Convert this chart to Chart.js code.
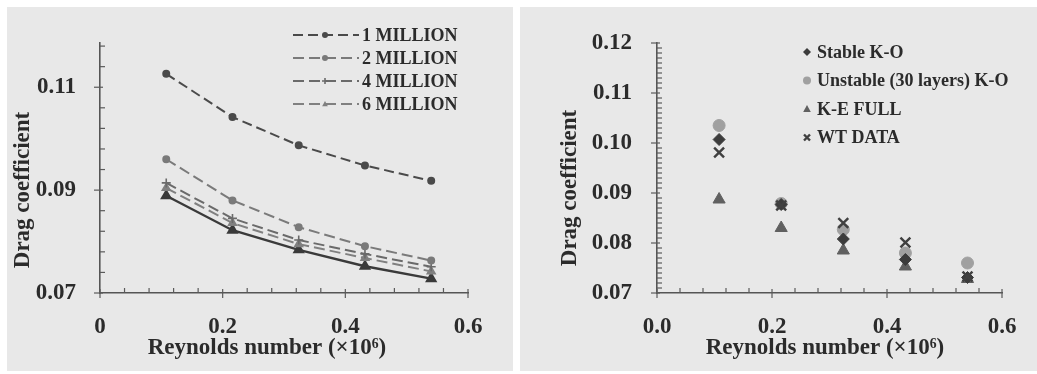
<!DOCTYPE html>
<html><head><meta charset="utf-8">
<script src="https://cdn.jsdelivr.net/npm/chart.js@4"></script>
<style>
html,body{margin:0;padding:0;background:#fff;width:1037px;height:374px;overflow:hidden;}
.panel{position:absolute;background:#e8e8e8;}
#p1{left:7px;top:7px;width:506px;height:364px;}
#p2{left:520px;top:7px;width:517px;height:364px;}
canvas{display:block;}
</style></head><body>
<div class="panel" id="p1"><canvas id="c1" width="506" height="364"></canvas></div>
<div class="panel" id="p2"><canvas id="c2" width="517" height="364"></canvas></div>
<script>
// ---------- data ----------
const reynolds = [0.108, 0.216, 0.324, 0.432, 0.54];

const leftLabels = ['1 MILLION', '2 MILLION', '4 MILLION', '6 MILLION'];
const cd1Million = [0.1126, 0.1042, 0.0987, 0.0948, 0.0918];
const cd2Million = [0.0960, 0.0880, 0.0828, 0.0791, 0.0763];
const cd4Million = [0.0914, 0.0845, 0.0803, 0.0776, 0.0751];
const cd6Million = [0.0904, 0.0836, 0.0795, 0.0768, 0.0742];
const cdSolid    = [0.0889, 0.0822, 0.0784, 0.0752, 0.0728];

const rightLabels = ['Stable K-O', 'Unstable (30 layers) K-O', 'K-E FULL', 'WT DATA'];
const cdStableKO   = [0.1007, 0.0877, 0.0808, 0.0767, 0.0731];
const cdUnstableKO = [0.1035, 0.0879, 0.0827, 0.0780, 0.0760];
const cdKEFull     = [0.0887, 0.0830, 0.0785, 0.0753, 0.0728];
const cdWTData     = [0.0981, 0.0875, 0.0840, 0.0801, 0.0733];

const leftXTicks = [0, 0.2, 0.4, 0.6];
const leftYTicks = [0.07, 0.09, 0.11];
const rightXTicks = [0.0, 0.2, 0.4, 0.6];
const rightYTicks = [0.07, 0.08, 0.09, 0.10, 0.11, 0.12];

const xTitle = 'Reynolds number (\u00d710\u2076)';
const yTitle = 'Drag coefficient';

// ---------- helpers ----------
const FONT = "'Liberation Serif', 'DejaVu Serif', serif";
const TXT = '#2b2b2b';
function pts(vals){ return reynolds.map((x,i)=>({x:x, y:vals[i]})); }
function near(v, arr){ return arr.some(a=>Math.abs(a-v)<1e-7); }

function drawMarker(ctx, style, x, y, r, fill, stroke, lw){
  ctx.save();
  ctx.fillStyle = fill; ctx.strokeStyle = stroke; ctx.lineWidth = lw;
  ctx.beginPath();
  if (style === 'circle') { ctx.arc(x, y, r, 0, Math.PI*2); ctx.fill(); }
  else if (style === 'triangle') {
    ctx.moveTo(x, y - r); ctx.lineTo(x + r*0.95, y + r*0.75); ctx.lineTo(x - r*0.95, y + r*0.75); ctx.closePath(); ctx.fill();
  } else if (style === 'rectRot') {
    ctx.moveTo(x, y - r); ctx.lineTo(x + r, y); ctx.lineTo(x, y + r); ctx.lineTo(x - r, y); ctx.closePath(); ctx.fill();
  } else if (style === 'cross') {
    ctx.moveTo(x - r, y); ctx.lineTo(x + r, y); ctx.moveTo(x, y - r); ctx.lineTo(x, y + r); ctx.stroke();
  } else if (style === 'crossRot') {
    const d = r*0.75;
    ctx.moveTo(x - d, y - d); ctx.lineTo(x + d, y + d); ctx.moveTo(x + d, y - d); ctx.lineTo(x - d, y + d); ctx.stroke();
  }
  ctx.restore();
}

const tickMarks = {
  id: 'tickMarks',
  beforeDatasetsDraw(chart){
    const ctx = chart.ctx, xs = chart.scales.x, ys = chart.scales.y;
    ctx.save(); ctx.strokeStyle = '#5a5a5a'; ctx.lineWidth = 1.2;
    xs.ticks.forEach(t=>{
      const p = xs.getPixelForValue(t.value); const major = t.label !== '';
      ctx.beginPath(); ctx.moveTo(p, xs.top + (major ? 5 : 0)); ctx.lineTo(p, xs.top - (major ? 4 : 5)); ctx.stroke();
    });
    ys.ticks.forEach(t=>{
      const p = ys.getPixelForValue(t.value); const major = t.label !== '';
      ctx.beginPath(); ctx.moveTo(ys.right - (major ? 6 : 0), p); ctx.lineTo(ys.right + (major ? 3 : 5), p); ctx.stroke();
    });
    ctx.restore();
  }
};

const axisTitles = {
  id: 'axisTitles',
  afterDraw(chart, args, o){
    const ctx = chart.ctx;
    ctx.save();
    ctx.font = 'bold 23px ' + FONT; ctx.fillStyle = TXT; ctx.textAlign = 'center'; ctx.textBaseline = 'middle';
    ctx.fillText(xTitle, o.xcx, o.xcy);
    ctx.translate(o.ycx, o.ycy); ctx.rotate(-Math.PI/2);
    ctx.fillText(yTitle, 0, 0);
    ctx.restore();
  }
};

const customLegend = {
  id: 'customLegend',
  afterDraw(chart, args, o){
    const ctx = chart.ctx;
    ctx.save();
    ctx.font = 'bold 18px ' + FONT; ctx.fillStyle = TXT; ctx.textBaseline = 'middle'; ctx.textAlign = 'left';
    let row = 0;
    chart.data.datasets.forEach(ds=>{
      if (!ds.label) return;
      const y = o.y0 + row*o.dy; row++;
      if (o.lines) {
        ctx.save(); ctx.strokeStyle = ds.borderColor; ctx.lineWidth = ds.borderWidth; ctx.setLineDash(ds.borderDash || []);
        ctx.beginPath(); ctx.moveTo(o.lx0, y); ctx.lineTo(o.lx1, y); ctx.stroke(); ctx.restore();
      }
      drawMarker(ctx, ds.pointStyle, o.mx, y, o.mr, ds.pointBackgroundColor, ds.pointBorderColor, ds.pointBorderWidth || 1.5);
      ctx.fillStyle = TXT;
      ctx.fillText(ds.label, o.tx, y + 1);
    });
    ctx.restore();
  }
};

function axisCommon(){
  return {
    type: 'linear',
    grid: { display: false },
    border: { display: true, color: '#555', width: 1.6 },
    ticks: { color: TXT, font: { family: FONT, size: 23, weight: 'bold' }, autoSkip: false, maxRotation: 0, minRotation: 0 },
    title: { display: false }
  };
}

function lineDs(label, vals, color, dash, style, r, width){
  return { label: label, data: pts(vals), showLine: true, borderColor: color, borderWidth: width || 2, borderDash: dash,
    pointStyle: style, pointRadius: r, pointBackgroundColor: color, pointBorderColor: color, pointBorderWidth: 1.6, fill: false };
}

// ---------- left chart ----------
const lx = axisCommon(), ly = axisCommon();
lx.min = 0; lx.max = 0.6;
lx.afterBuildTicks = s => { s.ticks = Array.from({length:16}, (_,k)=>({value: +(0.04*k).toFixed(4)})); };
lx.afterFit = s => { s.height = 78; };
lx.ticks.padding = 12;
lx.ticks.callback = v => near(v, leftXTicks) ? (Math.abs(v)<1e-9 ? '0' : String(+v.toFixed(1))) : '';
ly.min = 0.07; ly.max = 0.1186;
ly.afterBuildTicks = s => { s.ticks = Array.from({length:13}, (_,k)=>({value: +(0.07+0.004*k).toFixed(4)})); };
ly.afterFit = s => { s.width = 93; };
ly.ticks.padding = 16;
ly.ticks.callback = v => near(v, leftYTicks) ? v.toFixed(2) : '';

new Chart(document.getElementById('c1'), {
  type: 'scatter',
  data: { datasets: [
    lineDs(leftLabels[0], cd1Million, '#4a4a4a', [10,5], 'circle', 3.2),
    lineDs(leftLabels[1], cd2Million, '#7a7a7a', [11,5], 'circle', 3.2),
    lineDs(leftLabels[2], cd4Million, '#6a6a6a', [11,5], 'cross', 4.5),
    lineDs(leftLabels[3], cd6Million, '#808080', [11,5], 'triangle', 4.5),
    lineDs('', cdSolid, '#3a3a3a', [], 'triangle', 5.5, 2.4)
  ]},
  options: {
    responsive: false, animation: false,
    layout: { padding: { left: 0, right: 45, top: 36, bottom: 0 } },
    scales: { x: lx, y: ly },
    plugins: { legend: { display: false }, tooltip: { enabled: false },
      customLegend: { lines: true, lx0: 286, lx1: 352, mx: 318, mr: 3, tx: 355, y0: 28, dy: 23 },
      axisTitles: { xcx: 260, xcy: 341, ycx: 16, ycy: 183 } }
  },
  plugins: [tickMarks, customLegend, axisTitles]
});

// ---------- right chart ----------
const rx = axisCommon(), ry = axisCommon();
rx.min = 0; rx.max = 0.6;
rx.afterBuildTicks = s => { s.ticks = Array.from({length:16}, (_,k)=>({value: +(0.04*k).toFixed(4)})); };
rx.afterFit = s => { s.height = 78; };
rx.ticks.padding = 12;
rx.ticks.callback = v => near(v, rightXTicks) ? v.toFixed(1) : '';
ry.min = 0.07; ry.max = 0.12;
ry.afterBuildTicks = s => { s.ticks = Array.from({length:51}, (_,k)=>({value: +(0.07+0.001*k).toFixed(4)})); };
ry.afterFit = s => { s.width = 137; };
ry.ticks.padding = 17;
ry.ticks.callback = v => near(v, rightYTicks) ? v.toFixed(2) : '';

function ptDs(label, vals, color, style, r, order, bw){
  return { label: label, data: pts(vals), showLine: false, pointStyle: style, pointRadius: r,
    pointBackgroundColor: color, pointBorderColor: color, pointBorderWidth: bw || 1, borderColor: color, order: order };
}

new Chart(document.getElementById('c2'), {
  type: 'scatter',
  data: { datasets: [
    ptDs(rightLabels[0], cdStableKO, '#3c3c3c', 'rectRot', 6, 1),
    ptDs(rightLabels[1], cdUnstableKO, '#a0a0a0', 'circle', 6, 3),
    ptDs(rightLabels[2], cdKEFull, '#606060', 'triangle', 7, 2),
    ptDs(rightLabels[3], cdWTData, '#404040', 'crossRot', 7, 0, 2.4)
  ]},
  options: {
    responsive: false, animation: false,
    layout: { padding: { left: 0, right: 35, top: 36, bottom: 0 } },
    scales: { x: rx, y: ry },
    plugins: { legend: { display: false }, tooltip: { enabled: false },
      customLegend: { lines: false, mx: 287, mr: 4, tx: 297, y0: 45, dy: 28.5 },
      axisTitles: { xcx: 305, xcy: 341, ycx: 50, ycy: 181 } }
  },
  plugins: [tickMarks, customLegend, axisTitles]
});
</script>
</body></html>
